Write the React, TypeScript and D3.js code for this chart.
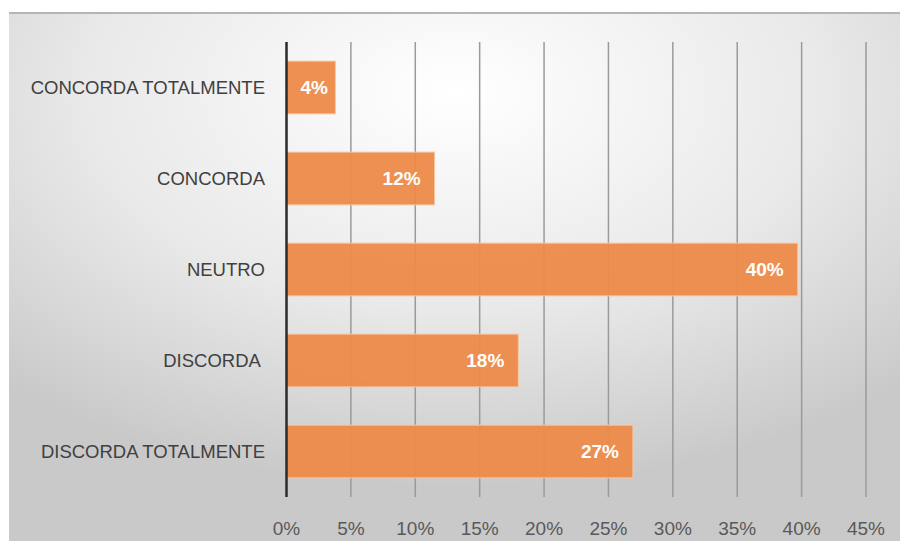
import React from "react";
import * as d3 from "d3";

const categories = ["CONCORDA TOTALMENTE", "CONCORDA", "NEUTRO", "DISCORDA ", "DISCORDA TOTALMENTE"];
const values = [3.8, 11.5, 39.7, 18, 26.9];
const valueLabels = ["4%", "12%", "40%", "18%", "27%"];
const ticks = [0, 5, 10, 15, 20, 25, 30, 35, 40, 45];

const W = 900;
const H = 551;

export default function App() {
  const x = d3.scaleLinear().domain([0, 45]).range([286.5, 866]);
  const y = d3.scaleBand<string>().domain(categories).range([42, 497]).paddingInner(0.42).paddingOuter(0.21);
  const font = "Liberation Sans, Arial, sans-serif";
  return (
    <svg width={W} height={H} style={{ position: "absolute", left: 0, top: 0, background: "#fff" }}>
      <defs>
        <radialGradient id="bg" cx="0.5" cy="0.15" r="0.75" gradientUnits="objectBoundingBox">
          <stop offset="0" stopColor="#ffffff" />
          <stop offset="0.55" stopColor="#e9e9e9" />
          <stop offset="1" stopColor="#c9c9c9" />
        </radialGradient>
      </defs>
      <rect x={9} y={13} width={891} height={528} fill="url(#bg)" />
      <line x1={9} x2={900} y1={13} y2={13} stroke="#b5b5b5" strokeWidth={2} />
      {ticks.slice(1).map((t) => (
        <line key={t} x1={x(t)} x2={x(t)} y1={42} y2={497} stroke="#9a9a9a" strokeWidth={1.5} />
      ))}
      {categories.map((c, i) => {
        const bw = x(values[i]) - x(0);
        const narrow = bw < 60;
        return (
          <g key={c}>
            <rect
              x={x(0)}
              y={y(c)!}
              width={bw}
              height={y.bandwidth()}
              fill="#ec8a49"
              fillOpacity={0.95}
              stroke="#f5c7a4"
              strokeWidth={1}
            />
            <text
              x={narrow ? x(0) + 14 : x(values[i]) - 14}
              y={y(c)! + y.bandwidth() / 2}
              dy="0.36em"
              textAnchor={narrow ? "start" : "end"}
              fill="#ffffff"
              fontFamily={font}
              fontWeight="bold"
              fontSize={19}
            >
              {valueLabels[i]}
            </text>
            <text
              x={265}
              y={y(c)! + y.bandwidth() / 2}
              dy="0.36em"
              textAnchor="end"
              fill="#404040"
              fontFamily={font}
              fontSize={18.5}
              style={{ whiteSpace: "pre" }}
            >
              {c}
            </text>
          </g>
        );
      })}
      <line x1={x(0)} x2={x(0)} y1={42} y2={497} stroke="#2b2b2b" strokeWidth={2.5} />
      {ticks.map((t) => (
        <text
          key={t}
          x={x(t)}
          y={528}
          dy="0.36em"
          textAnchor="middle"
          fill="#595959"
          fontFamily={font}
          fontSize={19}
        >
          {t + "%"}
        </text>
      ))}
    </svg>
  );
}
